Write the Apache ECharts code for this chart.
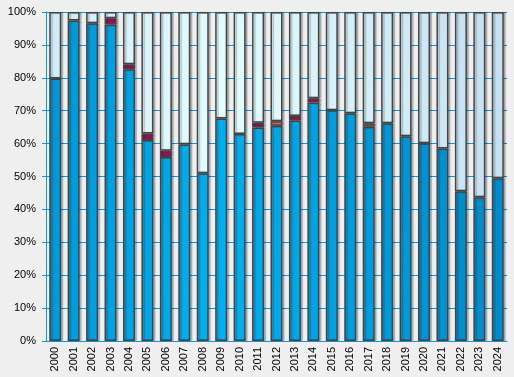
<!DOCTYPE html>
<html>
<head>
<meta charset="utf-8">
<script src="https://cdn.jsdelivr.net/npm/echarts@6/dist/echarts.min.js"></script>
<style>
html, body {margin:0; padding:0; background:#efefef;}
#chart {width:514px; height:377px;}
</style>
</head>
<body>
<div id="chart"></div>
<script>
// 年份
const years = ['2000','2001','2002','2003','2004','2005','2006','2007','2008','2009','2010','2011','2012',
    '2013','2014','2015','2016','2017','2018','2019','2020','2021','2022','2023','2024'];
// 蓝色部分 (%)
const blueShare = [79.8,97.4,96.6,96.2,82.6,61.1,55.9,59.8,51.0,67.6,62.9,64.9,65.4,
    67.0,72.5,70.1,69.2,65.1,66.2,62.2,60.1,58.5,45.5,43.7,49.5];
// 红色部分 (%)
const redShare = [0,0,0,1.9,1.5,2.0,1.9,0,0,0,0,1.4,0,
    1.4,1.3,0,0,0,0,0,0,0,0,0,0];
// 橙色部分 (%)
const orangeShare = [0,0,0,0,0,0,0,0,0,0,0,0,1.4,
    0,0,0,0,1.1,0,0,0,0,0,0,0];
// 剩余部分 = 100%
const restShare = years.map((y, i) => +(100 - blueShare[i] - redShare[i] - orangeShare[i]).toFixed(1));

const chart = echarts.init(document.getElementById('chart'));

// 颜色混合: 中间亮, 两边暗
function hex(c) { return [1,3,5].map(k => parseInt(c.substr(k, 2), 16)); }
function mix(a, b, t) {
    const A = hex(a), B = hex(b);
    return 'rgb(' + A.map((v, k) => Math.round(v + (B[k] - v) * t)).join(',') + ')';
}
function shade(c0, c1) {
    return function (p) {
        const t = Math.min(1, Math.abs(p.dataIndex - 9) / 15);
        return {
            type: 'linear', x: 0, y: 0, x2: 0, y2: 1,
            colorStops: [
                {offset: 0, color: mix(c0, c1, Math.min(1, t + 0.1))},
                {offset: 1, color: mix(c0, c1, t)}
            ]
        };
    };
}

const baseStyle = {
    borderColor: '#444',
    borderWidth: 1.5,
    shadowColor: 'rgba(0,0,0,0.22)',
    shadowOffsetX: 2,
    shadowOffsetY: 0,
    shadowBlur: 1
};

// 0 值不画
const nz = arr => arr.map(v => v > 0 ? v : null);

function seg(name, data, color) {
    return {
        name: name,
        type: 'bar',
        stack: 'all',
        data: nz(data),
        barWidth: 12,
        itemStyle: Object.assign({color: color}, baseStyle),
        emphasis: {disabled: true}
    };
}

const option = {
    backgroundColor: '#efefef',
    animation: false,
    grid: {left: 46, right: 7, top: 12, bottom: 36},
    xAxis: {
        type: 'category',
        data: years,
        axisLine: {lineStyle: {color: '#0a9ad8', width: 1}},
        axisTick: {length: 4, lineStyle: {color: '#0a9ad8'}},
        axisLabel: {rotate: 90, fontSize: 11, color: '#000', fontFamily: 'Liberation Sans', margin: 6}
    },
    yAxis: {
        type: 'value',
        min: 0, max: 100, interval: 10,
        axisLine: {show: true, lineStyle: {color: '#0a9ad8', width: 1}},
        axisTick: {show: true, length: 4, lineStyle: {color: '#0a9ad8'}},
        axisLabel: {formatter: '{value}%', fontSize: 11, color: '#000', fontFamily: 'Liberation Sans', margin: 10},
        splitLine: {lineStyle: {color: '#0a9ad8', width: 1}}
    },
    series: [
        seg('blue', blueShare, shade('#00b2f2', '#008ccb')),
        seg('red', redShare, '#b0005a'),
        seg('orange', orangeShare, '#ff6a48'),
        seg('rest', restShare, shade('#e4ffff', '#c6e2f2'))
    ]
};
chart.setOption(option);
</script>
</body>
</html>
